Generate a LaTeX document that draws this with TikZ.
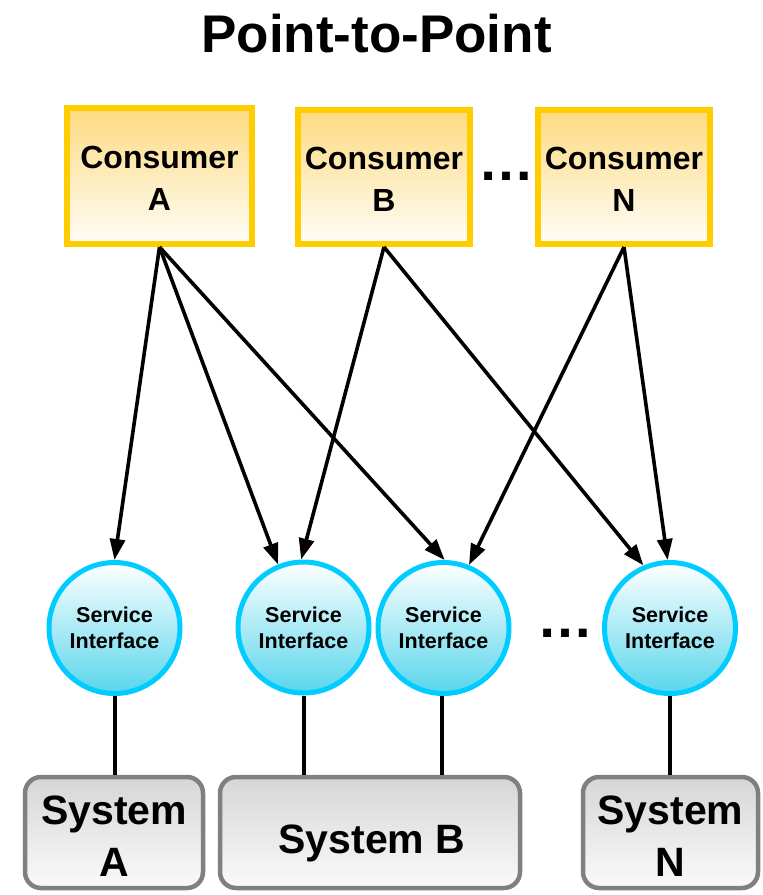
\documentclass[tikz,border=0pt]{standalone}
\usepackage{fontspec}
\setmainfont{Liberation Sans}
\usetikzlibrary{arrows.meta}

\definecolor{consumerEdge}{RGB}{255,204,0}
\definecolor{consumerTop}{RGB}{253,218,128}
\definecolor{consumerBottom}{RGB}{255,253,248}
\definecolor{serviceEdge}{RGB}{0,204,255}
\definecolor{serviceBottom}{RGB}{88,214,236}
\definecolor{systemEdge}{RGB}{128,128,128}
\definecolor{systemTop}{RGB}{214,214,214}
\definecolor{systemBottom}{RGB}{250,250,250}

\begin{document}
\begin{tikzpicture}[x=1pt,y=-1pt,
  consumerbox/.style={draw=consumerEdge, line width=6pt, top color=consumerTop,
    bottom color=consumerBottom, inner sep=0pt},
  servicebox/.style={circle, draw=serviceEdge, line width=5pt, top color=white,
    bottom color=serviceBottom, minimum size=131pt, inner sep=0pt, align=center,
    font={\fontsize{21.5}{26}\selectfont\bfseries}},
  systembox/.style={draw=systemEdge, line width=4.5pt, rounded corners=16pt,
    top color=systemTop, bottom color=systemBottom, minimum height=111pt, inner sep=0pt},
  consumertext/.style={align=center, inner sep=0pt,
    font={\fontsize{32}{42}\selectfont\bfseries}},
  systemtext/.style={align=center, inner sep=0pt,
    font={\fontsize{41}{52}\selectfont\bfseries}},
  dotstext/.style={anchor=base, inner sep=0pt, font={\fontsize{56}{56}\selectfont\bfseries}},
  arr/.style={line width=3.6pt, -{Triangle[length=21pt,width=15pt]}},
  link/.style={line width=4pt}
]
\useasboundingbox (0,0) rectangle (763,895);

% title
\node[anchor=base, inner sep=0pt, font={\fontsize{53}{60}\selectfont\bfseries}]
  (title) at (376.5,52) {Point-to-Point};

% consumers
\node[consumerbox, minimum width=185pt, minimum height=136pt] (ca) at (159.5,176) {};
\node[consumerbox, minimum width=172pt, minimum height=134pt] (cb) at (384,177) {};
\node[consumerbox, minimum width=172pt, minimum height=134pt] (cn) at (624,177) {};
\node[consumertext] (ca-t) at ([yshift=-2.5pt]ca.center) {Consumer\\A};
\node[consumertext] (cb-t) at ([yshift=-2.5pt]cb.center) {Consumer\\B};
\node[consumertext] (cn-t) at ([yshift=-2.5pt]cn.center) {Consumer\\N};
\node[dotstext] (dots-top) at (506.5,180) {…};

% service interfaces
\node[servicebox] (s1) at (114.5,628) {Service\\Interface};
\node[servicebox] (s2) at (303.5,627.5) {Service\\Interface};
\node[servicebox] (s3) at (443.5,628) {Service\\Interface};
\node[servicebox] (s4) at (670,628) {Service\\Interface};
\node[dotstext] (dots-mid) at (565.5,637) {…};

% systems
\node[systembox, minimum width=178pt] (sa) at (114,832.5) {};
\node[systembox, minimum width=300pt] (sb) at (370,832.5) {};
\node[systembox, minimum width=175pt] (sn) at (670.5,832.5) {};
\node[systemtext] (sa-t) at ([yshift=-3.5pt]sa.center) {System\\A};
\node[systemtext, anchor=base] (sb-t) at (372,853) {System B};
\node[systemtext] (sn-t) at ([yshift=-3.5pt]sn.center) {System\\N};

% consumer -> service interface calls
\draw[arr] (ca.south) -- (s1.90);
\draw[arr] (ca.south) -- (s2.112);
\draw[arr] (ca.south) -- (s3.89);
\draw[arr] (cb.south) -- (s2.92);
\draw[arr] (cb.south) -- (s4.113);
\draw[arr] (cn.south) -- (s3.68);
\draw[arr] (cn.south) -- (s4.92);

% service interface -> system links
\draw[link] (s1.south) -- (s1.south |- sa.north);
\draw[link] (s2.south) -- (s2.south |- sb.north);
\draw[link] ([xshift=-2pt]s3.south) -- ([xshift=-2pt]s3.south |- sb.north);
\draw[link] (s4.south) -- (s4.south |- sn.north);
\end{tikzpicture}
\end{document}
